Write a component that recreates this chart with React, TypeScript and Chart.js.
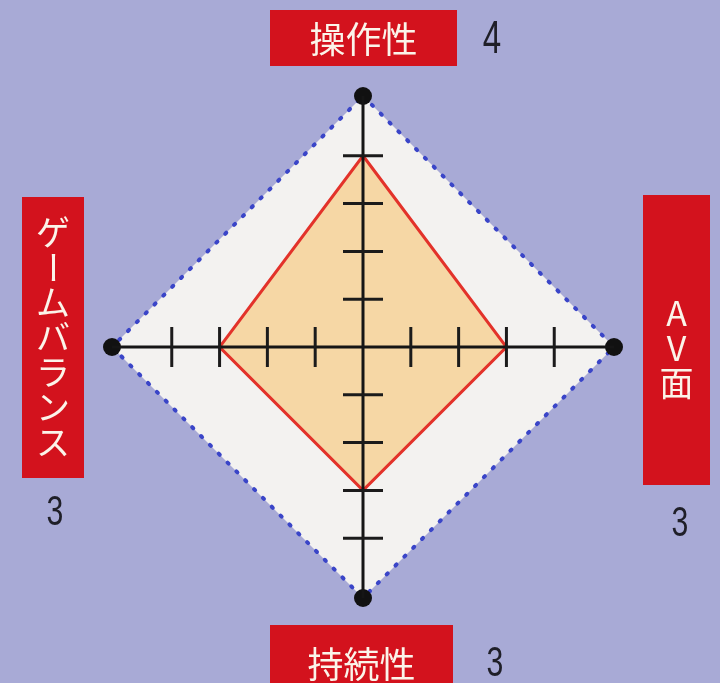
import { useEffect, useRef } from 'react';
import { Chart, registerables } from 'chart.js';

Chart.register(...registerables);

// ---- data ----
const AXES = ['操作性', 'AV面', '持続性', 'ゲームバランス'];
const SCORES = [4, 3, 3, 3];
const SCALE_MAX = 5.25;
const TICK_MARKS = [1, 2, 3, 4];

// ---- label layout (styles only) ----
const LABEL_BOXES = [
  { x: 270, y: 10, w: 187, h: 56, vertical: false, textY: 39, textShift: 0, valueX: 492, valueY: 40, valueSize: 46 },
  { x: 643, y: 195, w: 67, h: 290, vertical: true, textY: 0, textShift: 8, valueX: 680, valueY: 524, valueSize: 42 },
  { x: 270, y: 625, w: 183, h: 70, vertical: false, textY: 664, textShift: 0, valueX: 495, valueY: 664, valueSize: 42 },
  { x: 22, y: 197, w: 62, h: 281, vertical: true, textY: 0, textShift: 0, valueX: 55, valueY: 513, valueSize: 42 },
];

const BG = '#a8aad6';
const RED = '#d3121d';
const JP_FONT = '"Noto Sans CJK JP", "Noto Sans", sans-serif';
const NUM_FONT = '"Liberation Sans", "DejaVu Sans", sans-serif';

const tickMarksPlugin = {
  id: 'axisTickMarks',
  afterDraw(chart: any) {
    const scale = chart.scales.r;
    const ctx = chart.ctx;
    ctx.save();
    ctx.strokeStyle = '#1b1b1b';
    ctx.lineWidth = 3;
    AXES.forEach((_, i) => {
      const angle = scale.getIndexAngle(i) - Math.PI / 2;
      const px = -Math.sin(angle);
      const py = Math.cos(angle);
      TICK_MARKS.forEach((v) => {
        const p = scale.getPointPositionForValue(i, v);
        ctx.beginPath();
        ctx.moveTo(p.x - px * 20, p.y - py * 20);
        ctx.lineTo(p.x + px * 20, p.y + py * 20);
        ctx.stroke();
      });
    });
    ctx.restore();
  },
};

const labelBoxesPlugin = {
  id: 'labelBoxes',
  afterDraw(chart: any) {
    const ctx = chart.ctx;
    ctx.save();
    AXES.forEach((label, i) => {
      const b = LABEL_BOXES[i];
      ctx.fillStyle = RED;
      ctx.fillRect(b.x, b.y, b.w, b.h);
      ctx.fillStyle = '#fbf4ea';
      ctx.textAlign = 'center';
      ctx.textBaseline = 'middle';
      const cx = b.x + b.w / 2;
      if (!b.vertical) {
        ctx.font = `36px ${JP_FONT}`;
        ctx.fillText(label, cx, b.textY);
      } else {
        ctx.font = `34px ${JP_FONT}`;
        const chars = Array.from(label);
        const step = 35;
        const cy = b.y + b.h / 2 + b.textShift;
        const start = cy - (chars.length * step) / 2 + step / 2;
        chars.forEach((ch, k) => {
          const y = start + k * step;
          if (ch === 'ー') {
            ctx.save();
            ctx.translate(cx, y);
            ctx.rotate(Math.PI / 2);
            ctx.fillText(ch, 0, 0);
            ctx.restore();
          } else {
            ctx.fillText(ch, cx, y);
          }
        });
      }
      // score value
      ctx.save();
      ctx.fillStyle = '#1f1f28';
      ctx.font = `${b.valueSize}px ${NUM_FONT}`;
      ctx.translate(b.valueX, b.valueY);
      ctx.scale(0.72, 1);
      ctx.fillText(String(SCORES[i]), 0, 0);
      ctx.restore();
    });
    ctx.restore();
  },
};

export default function App() {
  const ref = useRef<HTMLCanvasElement | null>(null);

  useEffect(() => {
    if (!ref.current) return;
    const chart = new Chart(ref.current, {
      type: 'radar',
      data: {
        labels: AXES,
        datasets: [
          {
            label: '評価',
            data: SCORES,
            order: 1,
            backgroundColor: '#f6d7a5',
            borderColor: '#e3322a',
            borderWidth: 3,
            pointRadius: 0,
            fill: true,
          },
          {
            label: '外枠',
            data: AXES.map(() => SCALE_MAX),
            order: 2,
            backgroundColor: '#f3f2f0',
            borderColor: '#3a45c8',
            borderWidth: 4,
            borderDash: [1.5, 11],
            borderCapStyle: 'round',
            pointRadius: 9,
            pointBackgroundColor: '#111111',
            pointBorderWidth: 0,
            fill: true,
          },
        ],
      },
      options: {
        responsive: false,
        animation: false,
        layout: { padding: { left: 112, right: 106, top: 96, bottom: 85 } },
        plugins: { legend: { display: false }, tooltip: { enabled: false } },
        scales: {
          r: {
            min: 0,
            max: SCALE_MAX,
            ticks: { display: false, z: 1 },
            grid: { display: false, z: 1 },
            pointLabels: { display: false },
            angleLines: { display: true, color: '#151515', lineWidth: 3 },
          },
        },
      },
      plugins: [tickMarksPlugin, labelBoxesPlugin],
    } as any);
    return () => chart.destroy();
  }, []);

  return (
    <div style={{ position: 'fixed', left: 0, top: 0, width: 720, height: 683, background: BG }}>
      <canvas ref={ref} width={720} height={683} style={{ display: 'block' }} />
    </div>
  );
}
